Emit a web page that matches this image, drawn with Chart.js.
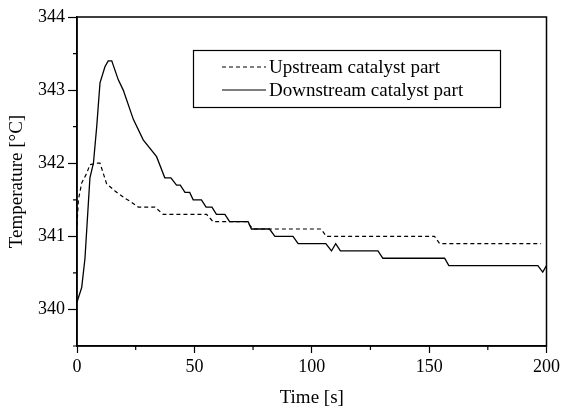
<!DOCTYPE html>
<html>
<head>
<meta charset="utf-8">
<script src="https://cdn.jsdelivr.net/npm/chart.js@4.4.1/dist/chart.umd.min.js"></script>
<style>
  html, body { margin: 0; padding: 0; background: #fff; }
  #wrap { width: 563px; height: 410px; position: relative; }
</style>
</head>
<body>
<div id="wrap"><canvas id="graph_canvas"></canvas></div>
<script>
// upstream catalyst part (dashed)
const upTime = [0, 0.6, 2, 4.1, 5.5, 8.4, 9.8, 11.2, 12.6, 16.2, 20.4, 22.6, 26.1, 33.2, 36.7, 55.2, 58, 72.2, 75, 104, 106.2, 152.3, 154.5, 197.7];
const upTemp = [341.15, 341.5, 341.73, 341.86, 341.98, 342.0, 342.0, 341.86, 341.72, 341.62, 341.52, 341.48, 341.4, 341.4, 341.3, 341.3, 341.2, 341.2, 341.1, 341.1, 341.0, 341.0, 340.9, 340.9];

// downstream catalyst part (solid)
const downTime = [0, 2, 3.4, 5.5, 7, 8.4, 9.8, 11.9, 13.3, 14.8, 17.6, 19.7, 24, 28.2, 33.9, 37.4, 40, 42.4, 44, 46, 48, 49.5, 53, 55, 57.5, 59.4, 63, 65, 72.9, 74.3, 82, 84.3, 92, 94.2, 106, 108.4, 110.2, 112.2, 128.2, 130.3, 156.6, 158.4, 196.3, 198.4, 200];
const downTemp = [340.1, 340.3, 340.7, 341.8, 342.0, 342.5, 343.1, 343.32, 343.4, 343.4, 343.14, 343.0, 342.6, 342.32, 342.09, 341.8, 341.8, 341.7, 341.7, 341.6, 341.6, 341.5, 341.5, 341.4, 341.4, 341.3, 341.3, 341.2, 341.2, 341.1, 341.1, 341.0, 341.0, 340.9, 340.9, 340.8, 340.9, 340.8, 340.8, 340.7, 340.7, 340.6, 340.6, 340.51, 340.6];

const seriesNames = ['Upstream catalyst part', 'Downstream catalyst part'];
const xLabels = [0, 50, 100, 150, 200];
const yLabels = [340, 341, 342, 343, 344];

function toPoints(xs, ys) {
  return xs.map((x, i) => ({x: x, y: ys[i]}));
}

const FONT = 'Liberation Serif';

function majorTickColor(labels) {
  return function(ctx) {
    return ctx.tick && labels.includes(ctx.tick.value) ? '#000' : 'rgba(0,0,0,0)';
  };
}

const frameAndLegend = {
  id: 'frameAndLegend',
  afterDraw(chart) {
    const c = chart.ctx;
    const a = chart.chartArea;
    c.save();
    c.strokeStyle = '#000';
    c.lineWidth = 1.5;
    c.strokeRect(a.left, a.top, a.right - a.left, a.bottom - a.top);

    // minor ticks (shorter than the major ones)
    c.lineWidth = 1.2;
    c.beginPath();
    chart.scales.x.ticks.forEach(t => {
      if (xLabels.includes(t.value)) return;
      const px = chart.scales.x.getPixelForValue(t.value);
      c.moveTo(px, a.bottom);
      c.lineTo(px, a.bottom + 4);
    });
    chart.scales.y.ticks.forEach(t => {
      if (yLabels.includes(t.value)) return;
      const py = chart.scales.y.getPixelForValue(t.value);
      c.moveTo(a.left, py);
      c.lineTo(a.left - 4, py);
    });
    c.stroke();

    // legend box
    c.lineWidth = 1.2;
    c.strokeRect(193.5, 50.5, 307, 57);
    const rows = [67, 90];
    c.font = '19px "' + FONT + '"';
    c.fillStyle = '#000';
    c.textBaseline = 'middle';
    chart.data.datasets.forEach((ds, i) => {
      c.beginPath();
      c.setLineDash(ds.borderDash || []);
      c.lineWidth = 1.2;
      c.moveTo(222, rows[i]);
      c.lineTo(266, rows[i]);
      c.stroke();
      c.setLineDash([]);
      c.fillText(ds.label, 269, rows[i] + 1);
    });
    c.restore();
  }
};

const config = {
  type: 'line',
  data: {
    datasets: [{
      label: seriesNames[0],
      data: toPoints(upTime, upTemp),
      borderColor: '#000',
      borderWidth: 1.2,
      borderDash: [4, 3],
      pointRadius: 0,
      fill: false,
      tension: 0
    },
    {
      label: seriesNames[1],
      data: toPoints(downTime, downTemp),
      borderColor: '#000',
      borderWidth: 1.3,
      pointRadius: 0,
      fill: false,
      tension: 0
    }]
  },
  plugins: [frameAndLegend],
  options: {
    responsive: true,
    maintainAspectRatio: false,
    animation: false,
    layout: { padding: { top: 17, right: 16, left: 0, bottom: 0 } },
    plugins: {
      legend: { display: false },
      tooltip: { enabled: false }
    },
    scales: {
      x: {
        type: 'linear',
        min: 0,
        max: 200,
        afterFit: function(scale) { scale.height = 64; },
        border: { color: '#000', width: 1.5 },
        grid: { drawOnChartArea: false, tickLength: 7, tickWidth: 1.2, tickColor: majorTickColor(xLabels) },
        ticks: {
          stepSize: 25,
          color: '#000',
          padding: 3,
          font: { family: FONT, size: 18 },
          callback: function(value) {
            return xLabels.includes(value) ? `${value}` : '';
          }
        },
        title: {
          display: true,
          text: 'Time [s]',
          color: '#000',
          font: { family: FONT, size: 19 },
          padding: { top: 4, bottom: 1 }
        }
      },
      y: {
        type: 'linear',
        min: 339.5,
        max: 344,
        afterFit: function(scale) { scale.width = 77; },
        border: { color: '#000', width: 1.5 },
        grid: { drawOnChartArea: false, tickLength: 9, tickWidth: 1.2, tickColor: majorTickColor(yLabels) },
        ticks: {
          stepSize: 0.5,
          color: '#000',
          padding: 3,
          font: { family: FONT, size: 18 },
          callback: function(value) {
            return yLabels.includes(value) ? `${value}` : '';
          }
        },
        title: {
          display: true,
          text: 'Temperature [°C]',
          color: '#000',
          font: { family: FONT, size: 19 },
          padding: { top: 6, bottom: 4 }
        }
      }
    }
  }
};

var myChart = new Chart(document.getElementById('graph_canvas'), config);
</script>
</body>
</html>
